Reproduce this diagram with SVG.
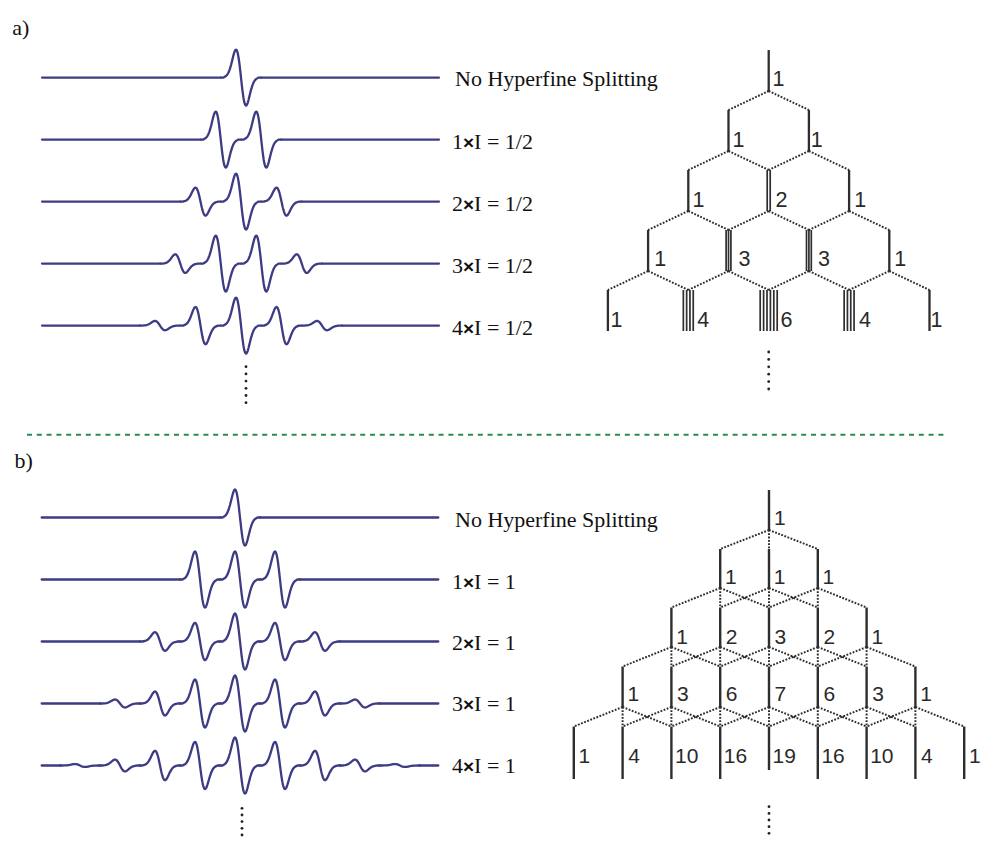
<svg xmlns="http://www.w3.org/2000/svg" width="984" height="841" viewBox="0 0 984 841">
<style>
.sp{fill:none;stroke:#3c3b84;stroke-width:2.3;stroke-linecap:round;stroke-linejoin:round}
.ln{fill:none;stroke:#2e2e2e;stroke-width:2.3}
.lnb{fill:none;stroke:#2e2e2e;stroke-width:2.4}
.bd{fill:none;stroke:#2e2e2e;stroke-width:1.7}
.dt{fill:none;stroke:#2e2e2e;stroke-width:2;stroke-dasharray:1.8 1.5}
.lbl{font-family:"Liberation Serif","Times New Roman",serif;font-size:22px;fill:#111}
.x{font-family:"Liberation Sans",Arial,sans-serif;font-weight:bold;font-size:19px}
.num{font-family:"Liberation Sans",Arial,sans-serif;font-size:21.5px;fill:#2a2a2a}
.numb{font-family:"Liberation Sans",Arial,sans-serif;font-size:21px;fill:#2a2a2a}
.dots{fill:#222}
</style>
<defs>
<path id="pk" vector-effect="non-scaling-stroke" d="M-20 0L-17.5 0L-16.25 -0.027L-15 -0.055L-13.75 -0.103L-12.5 -0.181L-11.25 -0.295L-10 -0.446L-9.375 -0.533L-8.75 -0.624L-8.125 -0.716L-7.5 -0.803L-6.875 -0.881L-6.25 -0.944L-5.625 -0.985L-5 -1L-4.375 -0.984L-3.75 -0.933L-3.125 -0.848L-2.5 -0.728L-1.875 -0.576L-1.25 -0.4L-0.625 -0.205L0 0L0.625 0.205L1.25 0.4L1.875 0.576L2.5 0.728L3.125 0.848L3.75 0.933L4.375 0.984L5 1L5.625 0.985L6.25 0.944L6.875 0.881L7.5 0.803L8.125 0.716L8.75 0.624L9.375 0.533L10 0.446L11.25 0.295L12.5 0.181L13.75 0.103L15 0.055L16.25 0.027L17.5 0L20 0"/>
</defs>
<rect width="984" height="841" fill="#fff"/>

<text class="lbl" x="12.3" y="35">a)</text>
<text class="lbl" x="14.5" y="467.5">b)</text>
<line x1="27" y1="434.7" x2="948" y2="434.7" stroke="#2a8a52" stroke-width="2" stroke-dasharray="5 4.8"/>

<!-- Panel a spectra -->
<g id="spectra-a" class="sp">
<g id="spec-a1"><path d="M42 77.6H221M261 77.6H439"/><use href="#pk" transform="translate(241 77.6) scale(1 28)"/></g>
<g id="spec-a2"><path d="M42 139.6H200.75M281.25 139.6H439"/><use href="#pk" transform="translate(220.75 139.6) scale(1 28)"/><use href="#pk" transform="translate(261.25 139.6) scale(1 28)"/></g>
<g id="spec-a3"><path d="M42 201.6H180.5M301.5 201.6H439"/><use href="#pk" transform="translate(200.5 201.6) scale(1 14)"/><use href="#pk" transform="translate(241 201.6) scale(1 28)"/><use href="#pk" transform="translate(281.5 201.6) scale(1 14)"/></g>
<g id="spec-a4"><path d="M42 263.6H160.25M321.75 263.6H439"/><use href="#pk" transform="translate(180.25 263.6) scale(1 9.33)"/><use href="#pk" transform="translate(220.75 263.6) scale(1 28)"/><use href="#pk" transform="translate(261.25 263.6) scale(1 28)"/><use href="#pk" transform="translate(301.75 263.6) scale(1 9.33)"/></g>
<g id="spec-a5"><path d="M42 325.6H140M342 325.6H439"/><use href="#pk" transform="translate(160 325.6) scale(1 4.67)"/><use href="#pk" transform="translate(200.5 325.6) scale(1 18.67)"/><use href="#pk" transform="translate(241 325.6) scale(1 28)"/><use href="#pk" transform="translate(281.5 325.6) scale(1 18.67)"/><use href="#pk" transform="translate(322 325.6) scale(1 4.67)"/></g>
</g>
<g id="spectra-a-more" class="dots"><circle cx="246" cy="366.7" r="1.4"/><circle cx="246" cy="373.9" r="1.4"/><circle cx="246" cy="381.1" r="1.4"/><circle cx="246" cy="388.3" r="1.4"/><circle cx="246" cy="395.5" r="1.4"/><circle cx="246" cy="402.7" r="1.4"/></g>
<g id="labels-a" class="lbl">
<text x="455" y="86">No Hyperfine Splitting</text>
<text x="452" y="148.5">1<tspan class="x">×</tspan>I = 1/2</text>
<text x="452" y="210.5">2<tspan class="x">×</tspan>I = 1/2</text>
<text x="452" y="272.5">3<tspan class="x">×</tspan>I = 1/2</text>
<text x="452" y="334.5">4<tspan class="x">×</tspan>I = 1/2</text>
</g>

<!-- Panel a tree -->
<g id="connectors-a" class="dt">
<path d="M768.7 91L728.5 110M768.7 91L808.9 110"/>
<path d="M728.5 151L688.3 170M728.5 151L768.7 170M808.9 151L768.7 170M808.9 151L849.1 170"/>
<path d="M688.3 211L648.1 230M688.3 211L728.5 230M768.7 211L728.5 230M768.7 211L808.9 230M849.1 211L808.9 230M849.1 211L889.3 230"/>
<path d="M648.1 271L607.9 290M648.1 271L688.3 290M728.5 271L688.3 290M728.5 271L768.7 290M808.9 271L768.7 290M808.9 271L849.1 290M889.3 271L849.1 290M889.3 271L929.5 290"/>
</g>
<g id="tree-a">
<g id="a-stem"><path class="ln" d="M768.7 50V91"/><text class="num" x="772.5" y="85.5">1</text></g>
<g id="a-level1"><path class="ln" d="M728.5 110V151M808.9 110V151"/><text class="num" x="732.5" y="146.5">1</text><text class="num" x="810.8" y="146.5">1</text></g>
<g id="a-level2"><path class="ln" d="M688.3 170V211M849.1 170V211"/><path class="bd" d="M767.2 170V211M770.2 170V211"/><text class="num" x="692.5" y="206.5">1</text><text class="num" x="775.5" y="206.5">2</text><text class="num" x="854.2" y="206.5">1</text></g>
<g id="a-level3"><path class="ln" d="M648.1 230V271M889.3 230V271"/><path class="bd" d="M726.1 230V271M728.5 230V271M730.9 230V271M806.5 230V271M808.9 230V271M811.3 230V271"/><text class="num" x="654.2" y="266">1</text><text class="num" x="738.5" y="266">3</text><text class="num" x="818" y="266">3</text><text class="num" x="894.2" y="266">1</text></g>
<g id="a-level4"><path class="ln" d="M607.9 290V331M929.5 290V331"/><path class="bd" d="M683.35 290V331M686.65 290V331M689.95 290V331M693.25 290V331M760.2 290V331M763.6 290V331M767 290V331M770.4 290V331M773.8 290V331M777.2 290V331M844.15 290V331M847.45 290V331M850.75 290V331M854.05 290V331"/><text class="num" x="610.5" y="327">1</text><text class="num" x="697.2" y="327">4</text><text class="num" x="780.5" y="327">6</text><text class="num" x="859" y="327">4</text><text class="num" x="930.5" y="327">1</text></g>
<g id="a-more" class="dots"><circle cx="768.7" cy="352" r="1.4"/><circle cx="768.7" cy="359.4" r="1.4"/><circle cx="768.7" cy="366.8" r="1.4"/><circle cx="768.7" cy="374.2" r="1.4"/><circle cx="768.7" cy="381.6" r="1.4"/><circle cx="768.7" cy="389" r="1.4"/></g>
</g>

<!-- Panel b spectra -->
<g id="spectra-b" class="sp">
<g id="spec-b1"><path d="M41.7 517.5H220M260 517.5H438.3"/><use href="#pk" transform="translate(240 517.5) scale(1 28)"/></g>
<g id="spec-b2"><path d="M41.7 579.5H180M300 579.5H438.3"/><use href="#pk" transform="translate(200 579.5) scale(1 28)"/><use href="#pk" transform="translate(240 579.5) scale(1 28)"/><use href="#pk" transform="translate(280 579.5) scale(1 28)"/></g>
<g id="spec-b3"><path d="M41.7 641.5H140M340 641.5H438.3"/><use href="#pk" transform="translate(160 641.5) scale(1 9.33)"/><use href="#pk" transform="translate(200 641.5) scale(1 18.67)"/><use href="#pk" transform="translate(240 641.5) scale(1 28)"/><use href="#pk" transform="translate(280 641.5) scale(1 18.67)"/><use href="#pk" transform="translate(320 641.5) scale(1 9.33)"/></g>
<g id="spec-b4"><path d="M41.7 703.5H100M380 703.5H438.3"/><use href="#pk" transform="translate(120 703.5) scale(1 4)"/><use href="#pk" transform="translate(160 703.5) scale(1 12)"/><use href="#pk" transform="translate(200 703.5) scale(1 24)"/><use href="#pk" transform="translate(240 703.5) scale(1 28)"/><use href="#pk" transform="translate(280 703.5) scale(1 24)"/><use href="#pk" transform="translate(320 703.5) scale(1 12)"/><use href="#pk" transform="translate(360 703.5) scale(1 4)"/></g>
<g id="spec-b5"><path d="M41.7 765.5H60M420 765.5H438.3"/><use href="#pk" transform="translate(80 765.5) scale(1 1.47)"/><use href="#pk" transform="translate(120 765.5) scale(1 5.89)"/><use href="#pk" transform="translate(160 765.5) scale(1 14.74)"/><use href="#pk" transform="translate(200 765.5) scale(1 23.58)"/><use href="#pk" transform="translate(240 765.5) scale(1 28)"/><use href="#pk" transform="translate(280 765.5) scale(1 23.58)"/><use href="#pk" transform="translate(320 765.5) scale(1 14.74)"/><use href="#pk" transform="translate(360 765.5) scale(1 5.89)"/><use href="#pk" transform="translate(400 765.5) scale(1 1.47)"/></g>
</g>
<g id="spectra-b-more" class="dots"><circle cx="242" cy="808.3" r="1.4"/><circle cx="242" cy="815" r="1.4"/><circle cx="242" cy="821.6" r="1.4"/><circle cx="242" cy="828.3" r="1.4"/><circle cx="242" cy="835" r="1.4"/></g>
<g id="labels-b" class="lbl">
<text x="455" y="526.5">No Hyperfine Splitting</text>
<text x="452" y="589">1<tspan class="x">×</tspan>I = 1</text>
<text x="452" y="649.5">2<tspan class="x">×</tspan>I = 1</text>
<text x="452" y="711">3<tspan class="x">×</tspan>I = 1</text>
<text x="452" y="772.5">4<tspan class="x">×</tspan>I = 1</text>
</g>

<!-- Panel b tree -->
<g id="connectors-b" class="dt">
<path d="M769 530l-48.8 19M769 530v19M769 530l48.8 19"/>
<path d="M720.2 588l-48.8 19.5M720.2 588v19.5M720.2 588l48.8 19.5M769 588l-48.8 19.5M769 588v19.5M769 588l48.8 19.5M817.8 588l-48.8 19.5M817.8 588v19.5M817.8 588l48.8 19.5"/>
<path d="M671.4 647l-48.8 19.5M671.4 647v19.5M671.4 647l48.8 19.5M720.2 647l-48.8 19.5M720.2 647v19.5M720.2 647l48.8 19.5M769 647l-48.8 19.5M769 647v19.5M769 647l48.8 19.5M817.8 647l-48.8 19.5M817.8 647v19.5M817.8 647l48.8 19.5M866.6 647l-48.8 19.5M866.6 647v19.5M866.6 647l48.8 19.5"/>
<path d="M622.6 707l-48.8 19.5M622.6 707v19.5M622.6 707l48.8 19.5M671.4 707l-48.8 19.5M671.4 707v19.5M671.4 707l48.8 19.5M720.2 707l-48.8 19.5M720.2 707v19.5M720.2 707l48.8 19.5M769 707l-48.8 19.5M769 707v19.5M769 707l48.8 19.5M817.8 707l-48.8 19.5M817.8 707v19.5M817.8 707l48.8 19.5M866.6 707l-48.8 19.5M866.6 707v19.5M866.6 707l48.8 19.5M915.4 707l-48.8 19.5M915.4 707v19.5M915.4 707l48.8 19.5"/>
</g>
<g id="tree-b">
<g id="b-stem"><path class="lnb" d="M769 490V530"/><text class="numb" x="774" y="524.5">1</text></g>
<g id="b-level1"><path class="lnb" d="M720.2 549V588M769 549V588M817.8 549V588"/><text class="numb" x="725" y="583.5">1</text><text class="numb" x="773.8" y="583.5">1</text><text class="numb" x="822.6" y="583.5">1</text></g>
<g id="b-level2"><path class="lnb" d="M671.4 607.5V647M720.2 607.5V647M769 607.5V647M817.8 607.5V647M866.6 607.5V647"/><text class="numb" x="676.2" y="643.5">1</text><text class="numb" x="725.8" y="643.5">2</text><text class="numb" x="774.6" y="643.5">3</text><text class="numb" x="823.4" y="643.5">2</text><text class="numb" x="871.4" y="643.5">1</text></g>
<g id="b-level3"><path class="lnb" d="M622.6 666.5V707M671.4 666.5V707M720.2 666.5V707M769 666.5V707M817.8 666.5V707M866.6 666.5V707M915.4 666.5V707"/><text class="numb" x="627.4" y="700.5">1</text><text class="numb" x="677" y="700.5">3</text><text class="numb" x="725.8" y="700.5">6</text><text class="numb" x="774.6" y="700.5">7</text><text class="numb" x="823.4" y="700.5">6</text><text class="numb" x="872.2" y="700.5">3</text><text class="numb" x="920.2" y="700.5">1</text></g>
<g id="b-level4"><path class="lnb" d="M573.8 726.5V779M622.6 726.5V779M671.4 726.5V779M720.2 726.5V779M769 726.5V770M817.8 726.5V779M866.6 726.5V779M915.4 726.5V779M964.2 726.5V779"/><text class="numb" x="578.6" y="762.5">1</text><text class="numb" x="628.2" y="762.5">4</text><text class="numb" x="675" y="762.5">10</text><text class="numb" x="723.8" y="762.5">16</text><text class="numb" x="772.6" y="762.5">19</text><text class="numb" x="821.4" y="762.5">16</text><text class="numb" x="870.2" y="762.5">10</text><text class="numb" x="921" y="762.5">4</text><text class="numb" x="969" y="762.5">1</text></g>
<g id="b-more" class="dots"><circle cx="769" cy="806.7" r="1.4"/><circle cx="769" cy="813.4" r="1.4"/><circle cx="769" cy="820" r="1.4"/><circle cx="769" cy="826.7" r="1.4"/><circle cx="769" cy="833.3" r="1.4"/></g>
</g>
</svg>
